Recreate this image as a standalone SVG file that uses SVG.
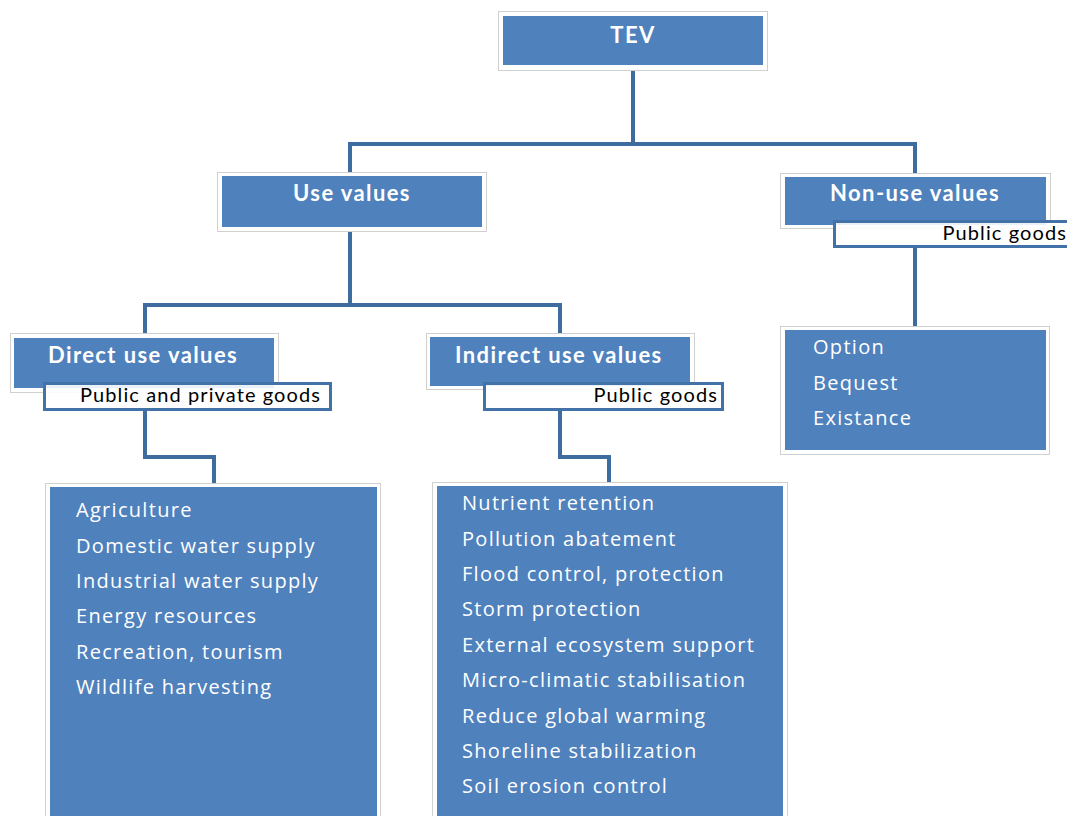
<svg xmlns="http://www.w3.org/2000/svg" width="1067" height="816" viewBox="0 0 1067 816">
<style>
.frame{fill:#fff;stroke:#d0d0d0;stroke-width:1}
.box{fill:#4F81BD}
.lbl{fill:#fff;fill-opacity:0.88;stroke:#4372A8;stroke-width:3}
.conn{fill:none;stroke:#3F6C9F;stroke-width:4}
.hd{font-family:Lato,"Liberation Sans",sans-serif;font-weight:bold;font-size:22px;letter-spacing:1.4px;fill:#fff}
.it{font-family:"Open Sans","DejaVu Sans",sans-serif;font-size:20px;letter-spacing:1.3px;fill:#fff}
.gd{font-family:Lato,"Liberation Sans",sans-serif;font-size:20px;letter-spacing:1.1px;fill:#000}
</style>
<rect width="1067" height="816" fill="#fff"/>
<g id="connectors">
<path class="conn" d="M633 70 V144 M350 144 H915 M350 142 V173 M915 142 V175"/>
<path class="conn" d="M350 231 V305 M145 305 H560 M145 303 V336 M560 303 V333"/>
<path class="conn" d="M915 247 V326"/>
<path class="conn" d="M145 410 V457 H214 V484"/>
<path class="conn" d="M560 410 V457 H609 V482"/>
</g>
<g id="tev">
<rect class="frame" x="498.5" y="11.5" width="269" height="59"/>
<rect class="box" x="503" y="16" width="260" height="49"/>
<text class="hd" x="633" y="43" text-anchor="middle">TEV</text>
</g>
<g id="use-values">
<rect class="frame" x="217.5" y="172.5" width="269" height="59"/>
<rect class="box" x="222" y="176" width="260" height="51"/>
<text class="hd" x="352" y="201" text-anchor="middle">Use values</text>
</g>
<g id="non-use-values">
<rect class="frame" x="780.5" y="173.5" width="270" height="55"/>
<rect class="box" x="785" y="177" width="261" height="48"/>
<text class="hd" x="915" y="201" text-anchor="middle">Non-use values</text>
<rect class="lbl" x="834.5" y="221.5" width="240" height="25"/>
<text class="gd" x="1067" y="240" text-anchor="end">Public goods</text>
</g>
<g id="direct-use-values">
<rect class="frame" x="10.5" y="333.5" width="268" height="59"/>
<rect class="box" x="14" y="338" width="260" height="50"/>
<text class="hd" x="48" y="363">Direct use values</text>
<rect class="lbl" x="44.5" y="383.5" width="286" height="26"/>
<text class="gd" x="80" y="402">Public and private goods</text>
</g>
<g id="indirect-use-values">
<rect class="frame" x="426.5" y="333.5" width="268" height="56"/>
<rect class="box" x="430" y="337" width="260" height="49"/>
<text class="hd" x="455" y="363">Indirect use values</text>
<rect class="lbl" x="484.5" y="383.5" width="238" height="26"/>
<text class="gd" x="718" y="402" text-anchor="end">Public goods</text>
</g>
<g id="direct-list">
<rect class="frame" x="45.5" y="483.5" width="335" height="340"/>
<rect class="box" x="50" y="487" width="327" height="335"/>
<text class="it" x="76" y="517">Agriculture</text>
<text class="it" x="76" y="553">Domestic water supply</text>
<text class="it" x="76" y="588">Industrial water supply</text>
<text class="it" x="76" y="623">Energy resources</text>
<text class="it" x="76" y="659">Recreation, tourism</text>
<text class="it" x="76" y="694">Wildlife harvesting</text>
</g>
<g id="indirect-list">
<rect class="frame" x="432.5" y="482.5" width="355" height="340"/>
<rect class="box" x="437" y="486" width="346" height="335"/>
<text class="it" x="462" y="510">Nutrient retention</text>
<text class="it" x="462" y="546">Pollution abatement</text>
<text class="it" x="462" y="581">Flood control, protection</text>
<text class="it" x="462" y="616">Storm protection</text>
<text class="it" x="462" y="652">External ecosystem support</text>
<text class="it" x="462" y="687">Micro-climatic stabilisation</text>
<text class="it" x="462" y="723">Reduce global warming</text>
<text class="it" x="462" y="758">Shoreline stabilization</text>
<text class="it" x="462" y="793">Soil erosion control</text>
</g>
<g id="non-use-list">
<rect class="frame" x="780.5" y="326.5" width="269" height="128"/>
<rect class="box" x="785" y="330" width="261" height="120"/>
<text class="it" x="813" y="354">Option</text>
<text class="it" x="813" y="390">Bequest</text>
<text class="it" x="813" y="425">Existance</text>
</g>
</svg>
